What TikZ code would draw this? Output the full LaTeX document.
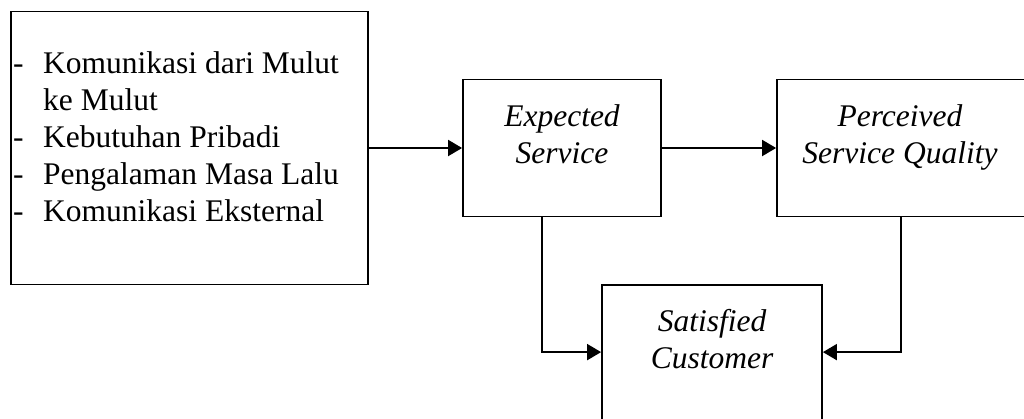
\documentclass[tikz,border=0pt]{standalone}
\usepackage{fontspec}
\setmainfont{Liberation Serif}
\usetikzlibrary{arrows.meta,calc}
\begin{document}
\begin{tikzpicture}[x=1pt,y=-1pt,
  box/.style={draw,line width=1.8pt,inner sep=0pt},
  txt/.style={inner sep=0pt,anchor=base,font=\fontsize{31.5}{37}\selectfont},
  arr/.style={line width=1.9pt,-{Triangle[length=14pt,width=16pt]}}]
\useasboundingbox (0,0) rectangle (1024,418);
\clip (0,0) rectangle (1024,418);
% boxes
\node[box,minimum width=357pt,minimum height=273pt] (src) at (189.5,148) {};
\node[box,minimum width=198pt,minimum height=137pt] (exp) at (562,148) {};
\node[box,minimum width=253pt,minimum height=137pt] (per) at (903.5,148) {};
\node[box,minimum width=220pt,minimum height=150pt] (sat) at (712,360) {};
% left list
\node[txt,anchor=base west] (d1) at (13,73) {-};
\node[txt,anchor=base west] (t1) at (43,73) {Komunikasi dari Mulut};
\node[txt,anchor=base west] (t1b) at (43,110) {ke Mulut};
\node[txt,anchor=base west] (d2) at (13,147) {-};
\node[txt,anchor=base west] (t2) at (43,147) {Kebutuhan Pribadi};
\node[txt,anchor=base west] (d3) at (13,184) {-};
\node[txt,anchor=base west] (t3) at (43,184) {Pengalaman Masa Lalu};
\node[txt,anchor=base west] (d4) at (13,221) {-};
\node[txt,anchor=base west] (t4) at (43,221) {Komunikasi Eksternal};
% box texts
\node[txt] (e1) at (562,126) {\itshape Expected};
\node[txt] (e2) at (562,163) {\itshape Service};
\node[txt] (p1) at (900,126) {\itshape Perceived};
\node[txt] (p2) at (900,163) {\itshape Service Quality};
\node[txt] (s1) at (712,331) {\itshape Satisfied};
\node[txt] (s2) at (712,368) {\itshape Customer};
% connectors
\draw[arr] (src.east) -- (exp.west);
\draw[arr] (exp.east) -- (per.west);
\draw[arr] ($(exp.south west)+(80,0)$) |- ($(sat.north west)+(0,68)$);
\draw[arr] ($(per.south west)+(125,0)$) |- ($(sat.north east)+(0,68)$);
\end{tikzpicture}
\end{document}
